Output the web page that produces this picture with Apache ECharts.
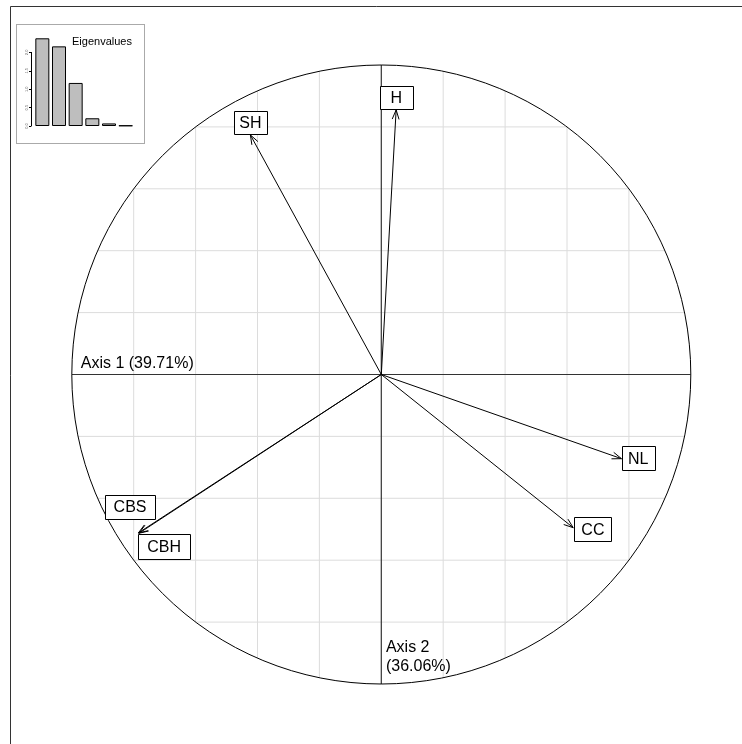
<!DOCTYPE html>
<html><head><meta charset="utf-8">
<script src="https://cdn.jsdelivr.net/npm/echarts@6/dist/echarts.min.js"></script>
<style>html,body{margin:0;padding:0;background:#fff}#c{width:742px;height:744px}</style>
</head><body><div id="c"></div>
<script>
// ---- data ----
const varNames = ['H', 'SH', 'NL', 'CC', 'CBS', 'CBH'];
const axis1Coord = [0.048, -0.423, 0.776, 0.620, -0.785, -0.783];
const axis2Coord = [0.855, 0.774, -0.272, -0.495, -0.512, -0.513];
const eigenvalues = [2.383, 2.164, 1.17, 0.21, 0.07, 0.013];
const eigenTicks = ['0.0', '0.5', '1.0', '1.5', '2.0'];
const axisTitle1 = 'Axis 1 (39.71%)';
const axisTitle2 = 'Axis 2\n(36.06%)';
const gridSteps = [-0.8, -0.6, -0.4, -0.2, 0.2, 0.4, 0.6, 0.8];

// ---- label placement (style, pixels) ----
const labelDx = [0, 0, 16.7, 19.7, -8.3, 25.2];
const labelDy = [-12.5, -12.5, -0.5, 1.4, -26, 13.5];
const labelW = [33, 33, 33, 37, 50, 52];
const labelH = [23, 23, 24, 24, 24, 25];

const FONT = "'Liberation Sans', Arial, Helvetica, sans-serif";
const chart = echarts.init(document.getElementById('c'), null, {renderer: 'canvas'});

const arrowData = varNames.map((n, i) => [axis1Coord[i], axis2Coord[i], i]);

function renderGrid(params, api) {
  const children = [];
  gridSteps.forEach(v => {
    const h = Math.sqrt(1 - v * v);
    const a = api.coord([v, -h]), b = api.coord([v, h]);
    children.push({type: 'line', shape: {x1: a[0], y1: a[1], x2: b[0], y2: b[1]}, style: {stroke: '#dcdcdc', lineWidth: 1}});
    const c = api.coord([-h, v]), d = api.coord([h, v]);
    children.push({type: 'line', shape: {x1: c[0], y1: c[1], x2: d[0], y2: d[1]}, style: {stroke: '#dcdcdc', lineWidth: 1}});
  });
  const l = api.coord([-1, 0]), r = api.coord([1, 0]), t = api.coord([0, 1]), b = api.coord([0, -1]);
  children.push({type: 'line', shape: {x1: l[0], y1: l[1], x2: r[0], y2: r[1]}, style: {stroke: '#333', lineWidth: 1.2}});
  children.push({type: 'line', shape: {x1: t[0], y1: t[1], x2: b[0], y2: b[1]}, style: {stroke: '#333', lineWidth: 1.2}});
  const o = api.coord([0, 0]);
  const rad = api.size([1, 1]);
  children.push({type: 'circle', shape: {cx: o[0], cy: o[1], r: rad[0]}, style: {stroke: '#000', fill: null, lineWidth: 1}});
  return {type: 'group', children};
}

function renderArrow(params, api) {
  const o = api.coord([0, 0]);
  const p = api.coord([api.value(0), api.value(1)]);
  const ang = Math.atan2(p[1] - o[1], p[0] - o[0]);
  const L = 10, A = Math.PI / 9;
  const h1 = [p[0] - L * Math.cos(ang - A), p[1] - L * Math.sin(ang - A)];
  const h2 = [p[0] - L * Math.cos(ang + A), p[1] - L * Math.sin(ang + A)];
  return {type: 'group', children: [
    {type: 'line', shape: {x1: o[0], y1: o[1], x2: p[0], y2: p[1]}, style: {stroke: '#000', lineWidth: 1}},
    {type: 'polyline', shape: {points: [h1, p, h2]}, style: {stroke: '#000', fill: null, lineWidth: 1}}
  ]};
}

function renderLabel(params, api) {
  const i = api.value(2);
  const p = api.coord([api.value(0), api.value(1)]);
  const cx = p[0] + labelDx[i], cy = p[1] + labelDy[i];
  return {type: 'group', children: [
    {type: 'rect', shape: {x: Math.round(cx - labelW[i] / 2) + 0.5, y: Math.round(cy - labelH[i] / 2) + 0.5, width: labelW[i], height: labelH[i]},
     style: {fill: '#fff', stroke: '#000', lineWidth: 1}},
    {type: 'text', x: cx, y: cy + 1, style: {text: varNames[i], font: '16px ' + FONT, fill: '#000', align: 'center', verticalAlign: 'middle'}}
  ]};
}

function renderAxisTitles(params, api) {
  const a = api.coord([-0.971, 0]);
  const b = api.coord([0.015, -0.851]);
  return {type: 'group', children: [
    {type: 'text', x: a[0], y: a[1] - 10.5, style: {text: axisTitle1, font: '16px ' + FONT, fill: '#000', align: 'left', verticalAlign: 'middle'}},
    {type: 'text', x: b[0], y: b[1], style: {text: axisTitle2, font: '16px ' + FONT, fill: '#000', align: 'left', verticalAlign: 'top', lineHeight: 19}}
  ]};
}

const option = {
  animation: false,
  backgroundColor: '#fff',
  grid: [
    {left: 71.8, top: 65, width: 619, height: 619},
    {left: 34, top: 52.4, width: 100, height: 73.6}
  ],
  xAxis: [
    {gridIndex: 0, type: 'value', min: -1, max: 1, show: false},
    {gridIndex: 1, type: 'category', data: eigenvalues.map((v, i) => String(i + 1)), show: false}
  ],
  yAxis: [
    {gridIndex: 0, type: 'value', min: -1, max: 1, show: false},
    {gridIndex: 1, type: 'value', min: 0, max: 2, interval: 0.5, offset: 3,
     axisLine: {show: true, lineStyle: {color: '#000', width: 1}},
     axisTick: {show: true, length: 2, lineStyle: {color: '#000'}},
     splitLine: {show: false},
     axisLabel: {fontSize: 4, color: '#666', margin: 2, rotate: 90, formatter: (v) => eigenTicks[Math.round(v * 2)]}}
  ],
  graphic: [
    {type: 'polyline', shape: {points: [[10.5, 744], [10.5, 6.5], [742, 6.5]]}, style: {stroke: '#333', fill: null, lineWidth: 1}, z: 100},
    {type: 'rect', shape: {x: 16.5, y: 24.5, width: 128, height: 119}, style: {stroke: '#555', fill: null, lineWidth: 1, lineDash: [1, 1]}, z: 100},
    {type: 'text', x: 72, y: 42, style: {text: 'Eigenvalues', font: '11px ' + FONT, fill: '#000', verticalAlign: 'middle'}, z: 100}
  ],
  series: [
    {type: 'custom', xAxisIndex: 0, yAxisIndex: 0, renderItem: renderGrid, data: [[0, 0]], silent: true, z: 1},
    {type: 'custom', xAxisIndex: 0, yAxisIndex: 0, renderItem: renderArrow, data: arrowData, silent: true, z: 2},
    {type: 'custom', xAxisIndex: 0, yAxisIndex: 0, renderItem: renderLabel, data: arrowData, silent: true, z: 3},
    {type: 'custom', xAxisIndex: 0, yAxisIndex: 0, renderItem: renderAxisTitles, data: [[0, 0]], silent: true, z: 3},
    {type: 'bar', xAxisIndex: 1, yAxisIndex: 1, data: eigenvalues, barWidth: 14, clip: false,
     itemStyle: {color: '#bebebe', borderColor: '#000', borderWidth: 1}, silent: true}
  ]
};
chart.setOption(option);
</script>
</body></html>
